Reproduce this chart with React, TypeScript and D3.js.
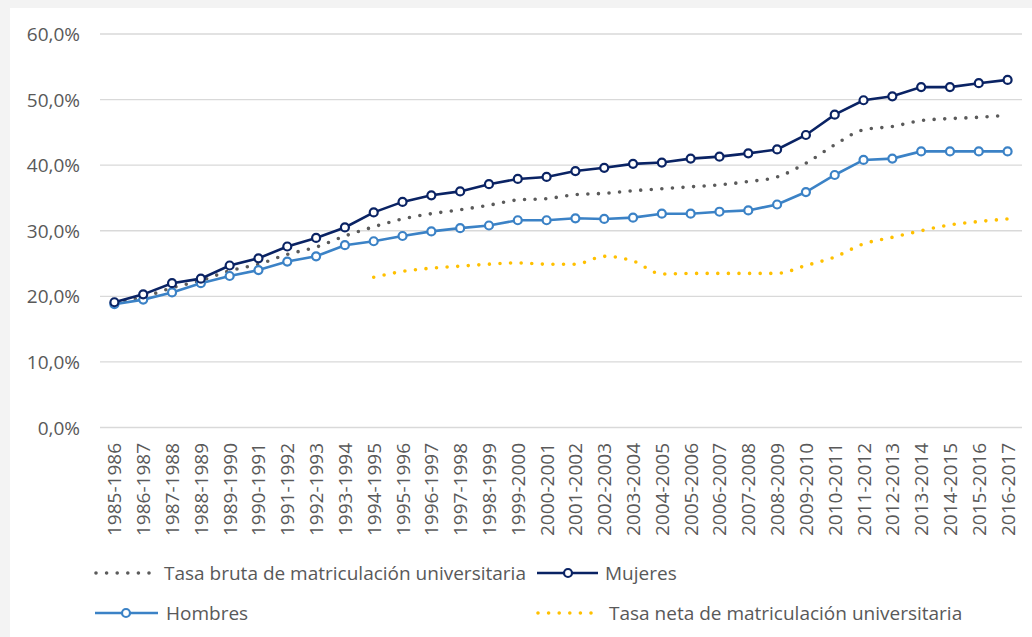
import React from "react";
import * as d3 from "d3";

const categories = [
  "1985-1986", "1986-1987", "1987-1988", "1988-1989", "1989-1990", "1990-1991",
  "1991-1992", "1992-1993", "1993-1994", "1994-1995", "1995-1996", "1996-1997",
  "1997-1998", "1998-1999", "1999-2000", "2000-2001", "2001-2002", "2002-2003",
  "2003-2004", "2004-2005", "2005-2006", "2006-2007", "2007-2008", "2008-2009",
  "2009-2010", "2010-2011", "2011-2012", "2012-2013", "2013-2014", "2014-2015",
  "2015-2016", "2016-2017",
];

// Tasa bruta de matriculación universitaria (%)
const tasaBruta = [
  19.1, 19.9, 21.3, 22.4, 23.9, 24.9, 26.4, 27.5, 29.2, 30.6, 31.8, 32.6,
  33.2, 33.9, 34.7, 34.9, 35.5, 35.7, 36.1, 36.4, 36.7, 37.0, 37.5, 38.2,
  40.3, 43.1, 45.4, 45.9, 46.8, 47.1, 47.3, 47.6,
];

// Mujeres (%)
const mujeres = [
  19.1, 20.3, 22.0, 22.7, 24.7, 25.8, 27.6, 28.9, 30.5, 32.8, 34.4, 35.4,
  36.0, 37.1, 37.9, 38.2, 39.1, 39.6, 40.2, 40.4, 41.0, 41.3, 41.8, 42.4,
  44.6, 47.7, 49.9, 50.5, 51.9, 51.9, 52.5, 53.0,
];

// Hombres (%)
const hombres = [
  18.8, 19.5, 20.6, 22.0, 23.1, 24.0, 25.3, 26.1, 27.8, 28.4, 29.2, 29.9,
  30.4, 30.8, 31.6, 31.6, 31.9, 31.8, 32.0, 32.6, 32.6, 32.9, 33.1, 34.0,
  35.9, 38.5, 40.8, 41.0, 42.1, 42.1, 42.1, 42.1,
];

// Tasa neta de matriculación universitaria (%), available from 1994-1995
const tasaNeta: (number | null)[] = [
  null, null, null, null, null, null, null, null, null,
  22.9, 23.8, 24.3, 24.6, 24.9, 25.1, 24.9, 24.9, 26.1, 25.4, 23.4, 23.5,
  23.5, 23.5, 23.5, 24.7, 26.0, 28.0, 29.0, 30.0, 30.9, 31.4, 31.8,
];

const yTicks = [0, 10, 20, 30, 40, 50, 60];

const W = 1032;
const H = 637;
const FONT = "'Open Sans', sans-serif";
const FS = 19;
const TEXT = "#595959";
const C_BRUTA = "#5a5a5a";
const C_MUJ = "#0a2364";
const C_HOM = "#3b82c6";
const C_NETA = "#ffc000";

export default function App() {
  const x = d3.scaleBand<string>().domain(categories).range([100, 1022]);
  const y = d3.scaleLinear().domain([0, 60]).range([427.5, 34]);
  const cx = (i: number) => (x(categories[i]) as number) + x.bandwidth() / 2;

  const straight = d3
    .line<number>()
    .x((_, i) => cx(i))
    .y((d) => y(d));

  const smooth = d3
    .line<number | null>()
    .defined((d) => d !== null)
    .x((_, i) => cx(i))
    .y((d) => y(d as number))
    .curve(d3.curveMonotoneX);

  const fmt = (v: number) => v.toFixed(1).replace(".", ",") + "%";

  const markers = (vals: number[], color: string) =>
    vals.map((v, i) => (
      <circle key={i} cx={cx(i)} cy={y(v)} r={4} fill="#fff" stroke={color} strokeWidth={2.2} />
    ));

  return (
    <svg
      width={W}
      height={H}
      style={{ position: "absolute", left: 0, top: 0, display: "block" }}
      fontFamily={FONT}
    >
      <rect x={0} y={0} width={W} height={H} fill="#f3f3f3" />
      <rect x={10} y={8} width={W - 10} height={H - 8} fill="#ffffff" />

      {/* gridlines and y labels */}
      {yTicks.map((t) => (
        <g key={t}>
          <line x1={100} x2={1022} y1={y(t)} y2={y(t)} stroke="#d9d9d9" strokeWidth={1.3} />
          <text
            x={80}
            y={y(t)}
            textAnchor="end"
            dominantBaseline="central"
            fontSize={FS}
            fill={TEXT}
          >
            {fmt(t)}
          </text>
        </g>
      ))}

      {/* category labels */}
      {categories.map((c, i) => (
        <text
          key={c}
          transform={`translate(${cx(i)},${443}) rotate(-90)`}
          textAnchor="end"
          dominantBaseline="central"
          fontSize={FS}
          fill={TEXT}
        >
          {c}
        </text>
      ))}

      {/* series */}
      <path
        d={smooth(tasaBruta) ?? ""}
        fill="none"
        stroke={C_BRUTA}
        strokeWidth={3.6}
        strokeLinecap="round"
        strokeDasharray="0 10.6"
      />
      <path
        d={smooth(tasaNeta) ?? ""}
        fill="none"
        stroke={C_NETA}
        strokeWidth={3.6}
        strokeLinecap="round"
        strokeDasharray="0 10.6"
      />
      <path d={straight(hombres) ?? ""} fill="none" stroke={C_HOM} strokeWidth={2.6} />
      {markers(hombres, C_HOM)}
      <path d={straight(mujeres) ?? ""} fill="none" stroke={C_MUJ} strokeWidth={2.6} />
      {markers(mujeres, C_MUJ)}

      {/* legend */}
      <g fontSize={FS} fill={TEXT}>
        <line x1={96} x2={152} y1={573} y2={573} stroke={C_BRUTA} strokeWidth={3.6}
          strokeLinecap="round" strokeDasharray="0 10.6" />
        <text x={164} y={573} dominantBaseline="central">
          Tasa bruta de matriculación universitaria
        </text>

        <line x1={537} x2={598} y1={573} y2={573} stroke={C_MUJ} strokeWidth={2.6} />
        <circle cx={568} cy={573} r={4} fill="#fff" stroke={C_MUJ} strokeWidth={2.2} />
        <text x={605} y={573} dominantBaseline="central">Mujeres</text>

        <line x1={95} x2={158} y1={613} y2={613} stroke={C_HOM} strokeWidth={2.6} />
        <circle cx={126} cy={613} r={4} fill="#fff" stroke={C_HOM} strokeWidth={2.2} />
        <text x={166} y={613} dominantBaseline="central">Hombres</text>

        <line x1={538} x2={600} y1={613} y2={613} stroke={C_NETA} strokeWidth={3.6}
          strokeLinecap="round" strokeDasharray="0 10.6" />
        <text x={609} y={613} dominantBaseline="central">
          Tasa neta de matriculación universitaria
        </text>
      </g>
    </svg>
  );
}
